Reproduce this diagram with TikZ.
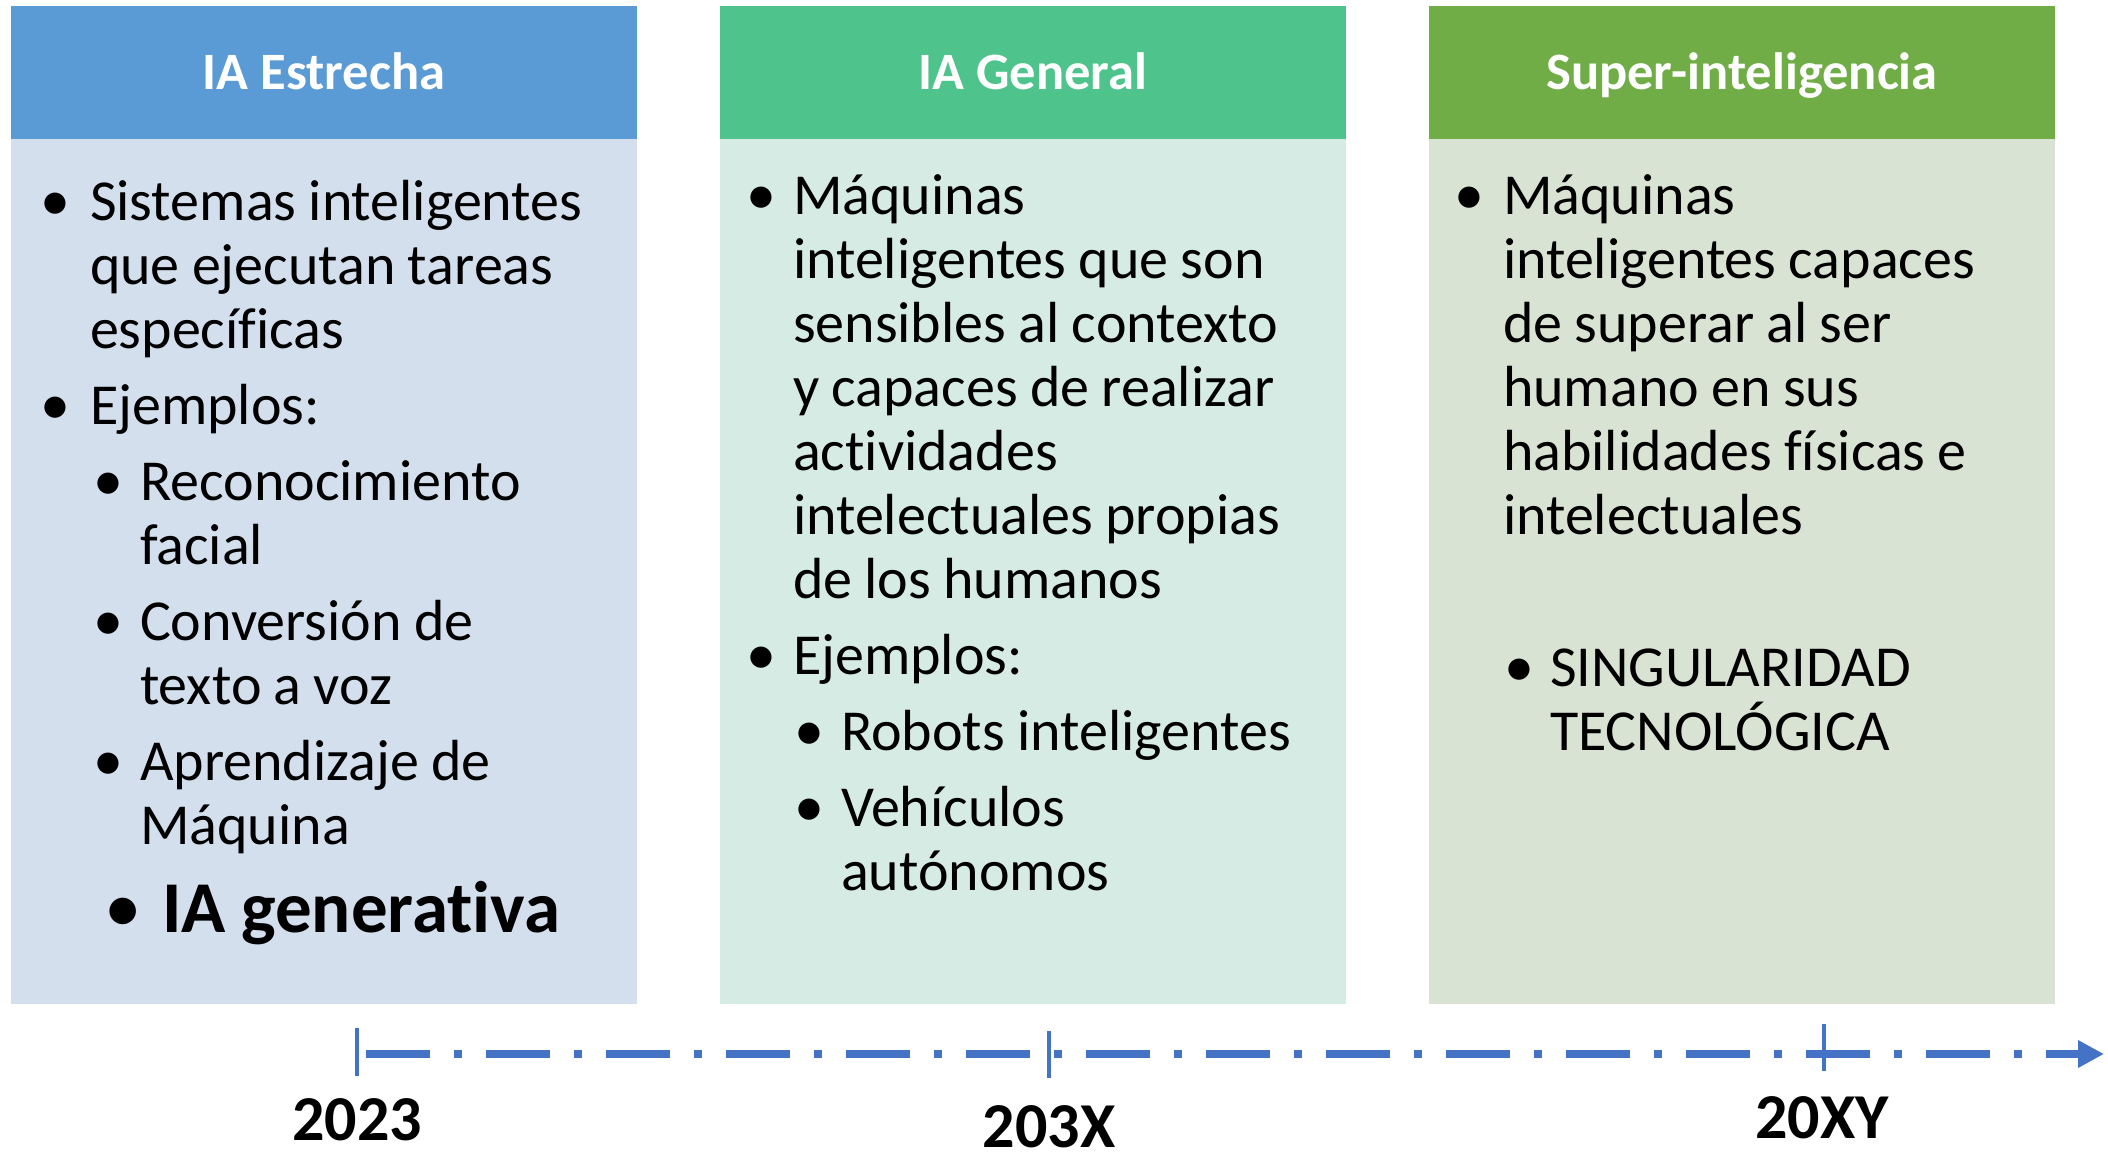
\documentclass[tikz,border=0pt]{standalone}
\usepackage{fontspec}
\setmainfont{Carlito}[Ligatures=CommonOff]
\usetikzlibrary{arrows.meta,positioning}

\definecolor{headblue}{HTML}{5B9BD5}
\definecolor{headgreen}{HTML}{4EC48C}
\definecolor{headolive}{HTML}{70AD47}
\definecolor{bodyblue}{HTML}{D4DFEE}
\definecolor{bodygreen}{HTML}{D5EBE3}
\definecolor{bodyolive}{HTML}{D9E3D3}
\definecolor{lineblue}{HTML}{4472C4}

\begin{document}
\begin{tikzpicture}[x=1pt, y=-1pt,
    every node/.style={inner sep=0pt, outer sep=0pt},
    head/.style={anchor=north west, minimum width=626pt, minimum height=133pt, text height=34pt, text depth=0pt, text=white, font=\fontsize{52.5}{60}\selectfont\bfseries},
    body/.style={minimum width=626pt, minimum height=865pt},
    txt/.style={anchor=base west, text width=580pt, align=left, font=\fontsize{58}{64}\selectfont, execute at begin node={\spaceskip=0.94\fontdimen2\font\relax}},
    bul/.style={anchor=base, font=\fontsize{60}{64}\selectfont},
    year/.style={anchor=base, font=\fontsize{64}{70}\selectfont\bfseries},
    tick/.style={draw=lineblue, line width=3.5pt},
    axis/.style={draw=lineblue, line width=8pt, dash pattern=on 64pt off 24pt on 8pt off 24pt, -{Triangle[length=26pt, width=26pt]}}]
        \useasboundingbox (0,0) rectangle (2108,1153);

        % columns
        \node[head, fill=headblue] (h1) at (11,6) {IA Estrecha};
        \node[head, fill=headgreen, right=83pt of h1] (h2) {IA General};
        \node[head, fill=headolive, right=83pt of h2] (h3) {Super-inteligencia};
        \node[body, fill=bodyblue, below=0pt of h1] (b1) {};
        \node[body, fill=bodygreen, below=0pt of h2] (b2) {};
        \node[body, fill=bodyolive, below=0pt of h3] (b3) {};

        % IA Estrecha
        \node[bul] (d1) at (55,220) {•};
        \node[txt] (t1a) at (90,220) {Sistemas inteligentes\\que ejecutan tareas\\específicas};
        \node[bul] (d2) at (55,424) {•};
        \node[txt] (t1b) at (90,424) {Ejemplos:};
        \node[bul] (d3) at (108,500) {•};
        \node[txt] (t1c) at (140,500) {Reconocimiento\\facial};
        \node[bul] (d4) at (108,640) {•};
        \node[txt] (t1d) at (140,640) {Conversión de\\texto a voz};
        \node[bul] (d5) at (108,780) {•};
        \node[txt] (t1e) at (140,780) {Aprendizaje de\\Máquina};
        \node[bul, font=\fontsize{75}{80}\selectfont] (d6) at (123,932) {•};
        \node[txt, font=\fontsize{73}{80}\selectfont\bfseries] (t1f) at (162,932) {IA generativa};

        % IA General
        \node[bul] (d7) at (761,214) {•};
        \node[txt] (t2a) at (793,214) {Máquinas\\inteligentes que son\\sensibles al contexto\\y capaces de realizar\\actividades\\intelectuales propias\\de los humanos};
        \node[bul] (d8) at (761,674) {•};
        \node[txt] (t2b) at (793,674) {Ejemplos:};
        \node[bul] (d9) at (809,750) {•};
        \node[txt] (t2c) at (841,750) {Robots inteligentes};
        \node[bul] (d10) at (809,826) {•};
        \node[txt] (t2d) at (841,826) {Vehículos\\autónomos};

        % Super-inteligencia
        \node[bul] (d11) at (1469,214) {•};
        \node[txt] (t3a) at (1503,214) {Máquinas\\inteligentes capaces\\de superar al ser\\humano en sus\\habilidades físicas e\\intelectuales};
        \node[bul] (d12) at (1519,686) {•};
        \node[txt] (t3b) at (1550,686) {SINGULARIDAD\\TECNOLÓGICA};

        % timeline
        \coordinate (a0) at (366,1054);
        \coordinate (a1) at (2104,1054);
        \coordinate (k1a) at (357,1028);
        \coordinate (k1b) at (357,1076);
        \coordinate (k2a) at (1049,1031);
        \coordinate (k2b) at (1049,1078);
        \coordinate (k3a) at (1824,1024);
        \coordinate (k3b) at (1824,1071);
        \draw[axis] (a0) -- (a1);
        \draw[tick] (k1a) -- (k1b);
        \draw[tick] (k2a) -- (k2b);
        \draw[tick] (k3a) -- (k3b);
        \node[year] (y1) at (357,1140) {2023};
        \node[year] (y2) at (1049,1147) {203X};
        \node[year] (y3) at (1822,1138) {20XY};
      \end{tikzpicture}
\end{document}
